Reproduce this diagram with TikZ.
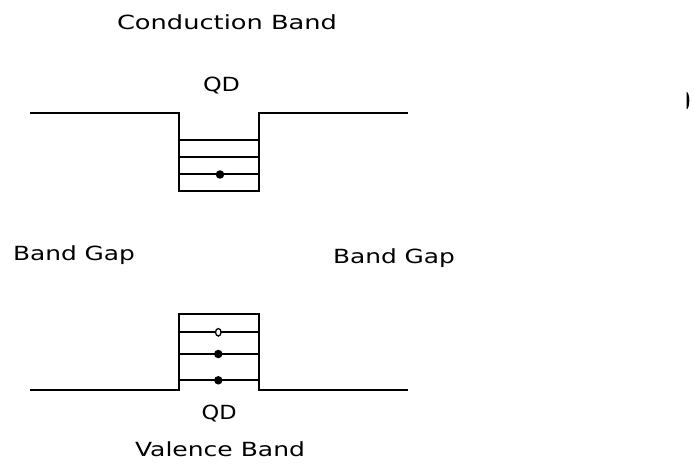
\documentclass[tikz,border=0pt]{standalone}
\usepackage{fontspec}
\usepackage{graphicx}
\usetikzlibrary{shapes.geometric}
\setmainfont{DejaVu Sans}
\newcommand\fitw[2]{\resizebox{#1}{\height}{#2}}
\begin{document}
\begin{tikzpicture}[x=1pt,y=-1pt,
  band/.style={line width=2pt,line join=miter},
  level/.style={line width=2pt},
  lbl/.style={anchor=base west,inner sep=0pt,outer sep=0pt,font=\fontsize{19.5}{22}\selectfont},
  electron/.style={circle,fill=black,inner sep=0pt,minimum size=8.5pt},
  hole/.style={ellipse,draw=black,line width=1.3pt,fill=white,inner sep=0pt,minimum width=5.5pt,minimum height=7.5pt}]
\useasboundingbox (0,0) rectangle (694,470);
\fill[white] (0,0) rectangle (694,470);
% labels
\node[lbl] (cb) at (117,29.3) {\fitw{220pt}{Conduction Band}};
\node[lbl] (qdt) at (203,91.7) {\fitw{37pt}{QD}};
\node[lbl] (bgl) at (13,260.7) {\fitw{122pt}{Band Gap}};
\node[lbl] (bgr) at (333,263.3) {\fitw{122pt}{Band Gap}};
\node[lbl] (qdb) at (201.7,420) {\fitw{35pt}{QD}};
\node[lbl] (vb) at (135,456.7) {\fitw{170pt}{Valence Band}};
% conduction band well
\coordinate (c1) at (30,113.5);
\coordinate (c2) at (179,113.5);
\coordinate (c3) at (179,191);
\coordinate (c4) at (259,191);
\coordinate (c5) at (259,113.5);
\coordinate (c6) at (408,113.5);
\draw[band] (c1) -- (c2) -- (c3) -- (c4) -- (c5) -- (c6);
\draw[level] (179,140) -- (259,140);
\draw[level] (179,157.5) -- (259,157.5);
\draw[level] (179,174.5) -- (259,174.5);
\node[electron] (e1) at (220,174.5) {};
% valence band well
\coordinate (v1) at (30,390.5);
\coordinate (v2) at (179,390.5);
\coordinate (v3) at (179,314.3);
\coordinate (v4) at (259,314.3);
\coordinate (v5) at (259,390.5);
\coordinate (v6) at (408,390.5);
\draw[band] (v1) -- (v2) -- (v3) -- (v4) -- (v5) -- (v6);
\draw[level] (179,332.3) -- (259,332.3);
\draw[level] (179,354) -- (259,354);
\draw[level] (179,380.3) -- (259,380.3);
\node[hole] (h1) at (218.3,332.3) {};
\node[electron] (e2) at (218.3,354) {};
\node[electron] (e3) at (218.3,380.3) {};
% edge artifact
\fill[black] (686.5,109.3) arc[start angle=-90,end angle=90,x radius=2.8,y radius=-8.7] -- cycle;
\end{tikzpicture}
\end{document}
